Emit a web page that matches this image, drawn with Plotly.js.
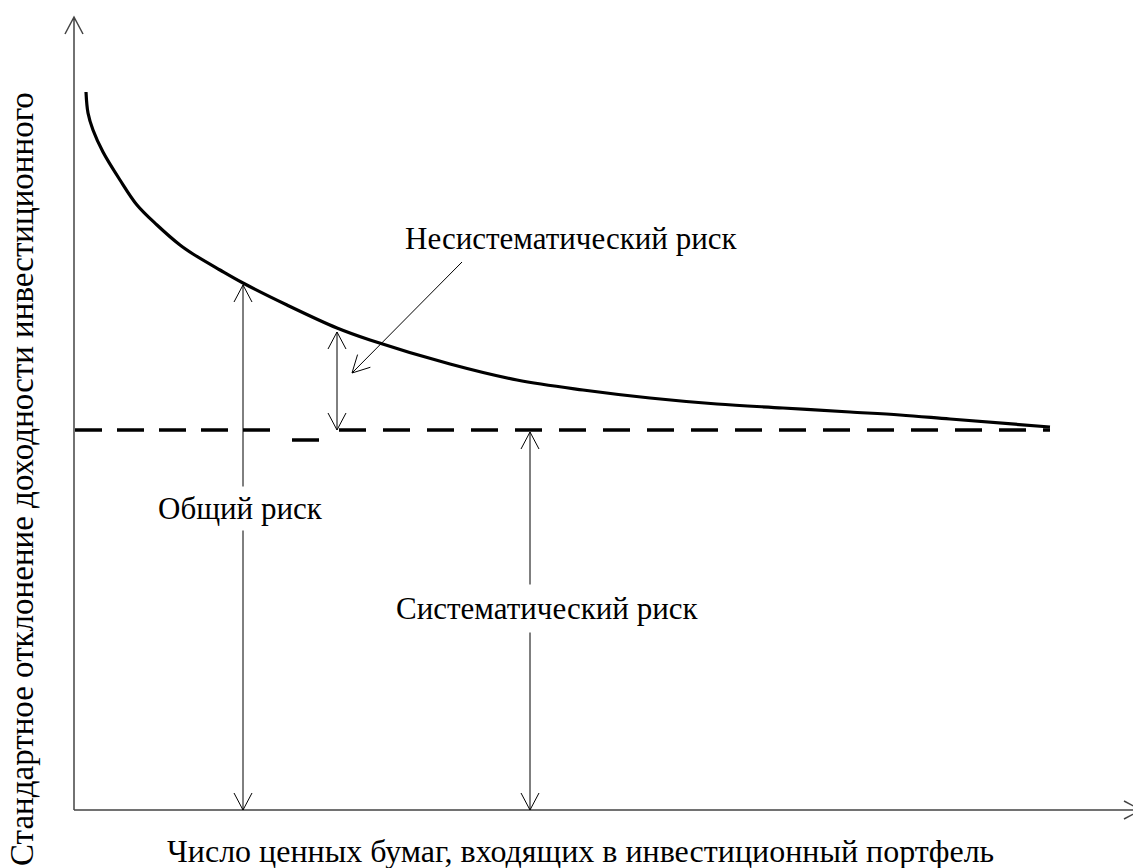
<!DOCTYPE html>
<html>
<head>
<meta charset="utf-8">
<script src="https://cdn.plot.ly/plotly-3.0.1.min.js"></script>
<style>html,body{margin:0;padding:0;background:#fff;}#chart{width:1133px;height:868px;}</style>
</head>
<body>
<div id="chart"></div>
<script>
// ---- data (schematic units) ----
const portfolioSize = [12, 14, 19, 29, 46, 63, 83, 106, 119, 146, 169, 213, 263, 296, 376, 443, 509, 576, 643, 709, 776, 826, 876, 976];
const totalRisk     = [718, 697, 680, 658, 630, 605, 585, 565, 556, 540, 527, 505, 482, 470, 446, 430, 420, 412, 406, 402, 398, 395, 391, 383];
const systematicLevel = 380;
const systematicStart = 1;
const systematicEnd = 976;
const strayDash = {x: [218, 245], y: [370, 370]};
const dashBreak = [211, 265];
const totalArrowIdx = 10;
const unsysArrowIdx = 12;
const sysArrowX = 456;
const pointerFrom = [388, 548];
const axisLen = {x: 1067, y: 793};
const labels = {
  unsys: 'Несистематический риск',
  total: 'Общий риск',
  sys: 'Систематический риск',
  xTitle: 'Число ценных бумаг, входящих в инвестиционный портфель',
  yTitle: 'Стандартное отклонение доходности инвестиционного'
};

// ---- helpers ----
const FONT = 'Liberation Serif, Times New Roman, serif';
function head(x0, y0, x1, y1, L, W) {
  const dx = x1 - x0, dy = y1 - y0, len = Math.hypot(dx, dy);
  const ux = dx / len, uy = dy / len;
  const bx = x1 - ux * L, by = y1 - uy * L;
  const px = -uy * W, py = ux * W;
  return `M${bx + px},${by + py}L${x1},${y1}L${bx - px},${by - py}`;
}
function arrow(x0, y0, x1, y1, both, color, width) {
  let p = `M${x0},${y0}L${x1},${y1}` + head(x0, y0, x1, y1, 17, 9);
  if (both) p += head(x1, y1, x0, y0, 17, 9);
  return {type: 'path', xref: 'x', yref: 'y', path: p, layer: 'above',
          line: {color: color || '#000', width: width || 1}};
}

const traces = [
  {x: portfolioSize, y: totalRisk, mode: 'lines', type: 'scatter',
   line: {color: '#000', width: 3.2, shape: 'spline', smoothing: 1}, hoverinfo: 'skip'},
  {x: [systematicStart, dashBreak[0]], y: [systematicLevel, systematicLevel], mode: 'lines',
   line: {color: '#000', width: 3.5, dash: '27px,15px'}, hoverinfo: 'skip'},
  {x: [dashBreak[1], systematicEnd], y: [systematicLevel, systematicLevel], mode: 'lines',
   line: {color: '#000', width: 3.5, dash: '27px,17px'}, hoverinfo: 'skip'},
  {x: strayDash.x, y: strayDash.y, mode: 'lines',
   line: {color: '#000', width: 3.5}, hoverinfo: 'skip'}
];

const shapes = [
  // axes
  arrow(0, 0, 0, axisLen.y, false, '#444', 1.5),
  arrow(0, 0, axisLen.x, 0, false, '#444', 1.5),
  // total risk
  arrow(portfolioSize[totalArrowIdx], 0, portfolioSize[totalArrowIdx], totalRisk[totalArrowIdx] - 2, true),
  // unsystematic risk
  arrow(portfolioSize[unsysArrowIdx], systematicLevel, portfolioSize[unsysArrowIdx], totalRisk[unsysArrowIdx] - 4, true),
  // systematic risk
  arrow(sysArrowX, 0, sysArrowX, systematicLevel - 2, true),
  // pointer
  arrow(pointerFrom[0], pointerFrom[1], portfolioSize[unsysArrowIdx] + 15, 437, false)
];

function ann(text, x, y, extra, size) {
  return Object.assign({text, x, y, xref: 'x', yref: 'y', showarrow: false,
    xanchor: 'center', yanchor: 'middle', font: {family: FONT, size: size || 31, color: '#000'}}, extra || {});
}
const annotations = [
  ann(labels.unsys, 497, 572, {borderpad: 0}),
  ann(labels.total, 166, 302, {bgcolor: '#fff', borderpad: 4}),
  ann(labels.sys, 473, 202, {bgcolor: '#fff', borderpad: 6}),
  ann(labels.xTitle, 506, -41, {}, 32),
  ann(labels.yTitle, -52, 331, {textangle: -90}, 33)
];

const layout = {
  width: 1133, height: 868,
  margin: {l: 0, r: 0, t: 0, b: 0, pad: 0},
  paper_bgcolor: '#fff', plot_bgcolor: '#fff',
  showlegend: false,
  xaxis: {range: [-74, 1059], visible: false, fixedrange: true},
  yaxis: {range: [-58, 810], visible: false, fixedrange: true},
  shapes, annotations
};
Plotly.newPlot('chart', traces, layout, {displayModeBar: false, staticPlot: true});
</script>
</body>
</html>
